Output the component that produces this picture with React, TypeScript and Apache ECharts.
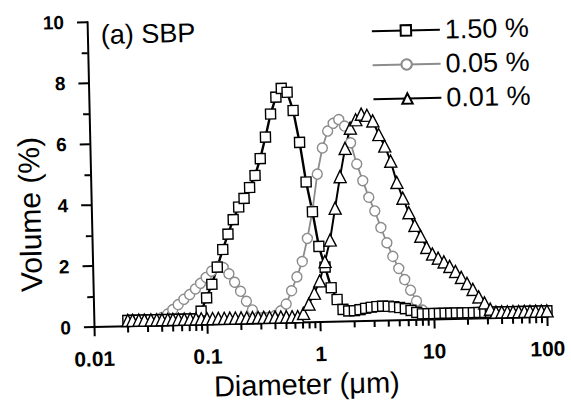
import React, { useEffect, useRef } from "react";
import * as echarts from "echarts";

// Particle size bins (µm), log spaced
const diameters = [
  0.02, 0.022, 0.025, 0.028, 0.032, 0.036, 0.04, 0.045, 0.05, 0.056,
  0.063, 0.071, 0.08, 0.089, 0.1, 0.112, 0.126, 0.142, 0.159, 0.178,
  0.2, 0.224, 0.252, 0.283, 0.317, 0.356, 0.399, 0.448, 0.502, 0.564,
  0.632, 0.71, 0.796, 0.893, 1.002, 1.125, 1.262, 1.416, 1.589, 1.783,
  2.0, 2.244, 2.518, 2.825, 3.17, 3.557, 3.991, 4.477, 5.024, 5.637,
  6.325, 7.096, 7.962, 8.934, 10.024, 11.247, 12.619, 14.159, 15.887, 17.825,
  20.0, 22.44, 25.179, 28.251, 31.698, 35.566, 39.905, 44.774, 50.238, 56.368,
  63.246, 70.963, 79.621, 89.337, 100.0,
];

// Volume (%) – 1.50 % (squares)
const vol150 = [
  0.2, 0.2, 0.2, 0.2, 0.2, 0.2, 0.2, 0.2, 0.2, 0.2,
  0.2, 0.2, 0.2, 0.45, 0.88, 1.32, 1.88, 2.45, 2.95, 3.42,
  3.83, 4.11, 4.46, 4.85, 5.4, 6.1, 6.85, 7.4, 7.68, 7.55,
  6.95, 5.9, 4.6, 3.62, 2.48, 1.8, 1.12, 0.73, 0.4, 0.35,
  0.35, 0.38, 0.42, 0.45, 0.47, 0.48, 0.47, 0.45, 0.42, 0.38,
  0.32, 0.25, 0.2, 0.2, 0.2, 0.2, 0.2, 0.2, 0.2, 0.2,
  0.2, 0.2, 0.2, 0.2, 0.2, 0.2, 0.2, 0.2, 0.2, 0.2,
  0.2, 0.2, 0.2, 0.2, 0.2,
];

// Volume (%) – 0.05 % (circles)
const vol005 = [
  0.2, 0.2, 0.2, 0.2, 0.2, 0.22, 0.27, 0.38, 0.52, 0.68,
  0.85, 1.0, 1.18, 1.36, 1.55, 1.75, 1.9, 1.86, 1.65, 1.37,
  1.07, 0.74, 0.45, 0.2, 0.2, 0.2, 0.25, 0.4, 0.62, 1.05,
  1.5, 2.0, 2.75, 3.65, 4.85, 5.7, 6.25, 6.5, 6.62, 6.4,
  5.85, 5.15, 4.6, 4.05, 3.6, 3.05, 2.55, 2.1, 1.7, 1.33,
  0.98, 0.62, 0.32, 0.2, 0.2, 0.2, 0.2, 0.2, 0.2, 0.2,
  0.2, 0.2, 0.2, 0.2, 0.2, 0.2, 0.2, 0.2, 0.2, 0.2,
  0.2, 0.2, 0.2, 0.2, 0.2,
];

// Volume (%) – 0.01 % (triangles)
const vol001 = [
  0.2, 0.2, 0.2, 0.2, 0.2, 0.2, 0.2, 0.2, 0.2, 0.2,
  0.2, 0.2, 0.2, 0.2, 0.2, 0.2, 0.2, 0.2, 0.2, 0.2,
  0.2, 0.2, 0.2, 0.2, 0.2, 0.2, 0.2, 0.2, 0.2, 0.2,
  0.2, 0.3, 0.6, 0.95, 1.35, 1.98, 2.68, 3.72, 4.75, 5.67,
  6.33, 6.6, 6.78, 6.74, 6.55, 6.1, 5.72, 5.22, 4.52, 4.0,
  3.52, 3.1, 2.74, 2.37, 2.15, 2.01, 1.88, 1.73, 1.56, 1.36,
  1.16, 0.96, 0.71, 0.51, 0.3, 0.2, 0.2, 0.2, 0.2, 0.2,
  0.2, 0.2, 0.2, 0.2, 0.2,
];

const seriesNames = ["1.50 %", "0.05 %", "0.01 %"];
const xTickLabels = [0.01, 0.1, 1, 10, 100];
const xMinorTicks = [
  0.02, 0.03, 0.04, 0.05, 0.06, 0.07, 0.08, 0.09,
  0.2, 0.3, 0.4, 0.5, 0.6, 0.7, 0.8, 0.9,
  2, 3, 4, 5, 6, 7, 8, 9,
  20, 30, 40, 50, 60, 70, 80, 90,
];
const panelLabel = "(a) SBP";
const xTitle = "Diameter (\u03bcm)";
const yTitle = "Volume (%)";

const FONT = "'Liberation Sans', Arial, Helvetica, sans-serif";

export default function App() {
  const ref = useRef<HTMLDivElement>(null);

  useEffect(() => {
    if (!ref.current) return;
    const chart = echarts.init(ref.current, null, { renderer: "svg" });
    const pairs = (ys: number[]) => diameters.map((d, i) => [d, ys[i]]);
    const black = "#000";
    const gray = "#8c8c8c";

    const option: any = {
      animation: false,
      backgroundColor: "#fff",
      grid: {
        left: 90.4,
        top: 16.8,
        width: 453.3,
        height: 305.4,
        containLabel: false,
        outerBoundsMode: "none",
      },
      xAxis: {
        type: "log",
        logBase: 10,
        min: 0.01,
        max: 100,
        splitLine: { show: false },
        axisLine: { show: true, onZero: false, lineStyle: { color: black, width: 2 } },
        axisTick: { show: true, inside: false, length: 9, lineStyle: { color: black, width: 2 } },
        axisLabel: {
          fontFamily: FONT,
          fontSize: 21,
          fontWeight: "bold",
          color: black,
          margin: 21,
          formatter: (v: number) => {
            let best = xTickLabels[0];
            for (const t of xTickLabels) {
              if (Math.abs(Math.log10(t) - Math.log10(v)) < Math.abs(Math.log10(best) - Math.log10(v))) best = t;
            }
            return String(best);
          },
        },
      },
      yAxis: {
        type: "value",
        min: 0,
        max: 10,
        interval: 2,
        splitLine: { show: false },
        axisLine: { show: true, lineStyle: { color: black, width: 2 } },
        axisTick: { show: true, inside: false, length: 10, lineStyle: { color: black, width: 2 } },
        minorTick: { show: true, splitNumber: 2, length: 6, lineStyle: { color: black, width: 2 } },
        minorSplitLine: { show: false },
        axisLabel: {
          fontFamily: FONT,
          fontSize: 19,
          fontWeight: "bold",
          color: black,
          margin: 23,
        },
      },
      legend: {
        data: seriesNames,
        orient: "vertical",
        left: 374,
        top: 19,
        padding: 0,
        itemWidth: 68,
        itemHeight: 13,
        itemGap: 7,
        textStyle: { fontFamily: FONT, fontSize: 27, color: black, lineHeight: 27 },
      },
      graphic: [
        {
          type: "text",
          x: 104,
          y: 30,
          style: { text: panelLabel, fontFamily: FONT, fontSize: 27, fill: black, align: "left", verticalAlign: "middle" },
        },
        {
          type: "text",
          x: 29,
          y: 208,
          rotation: Math.PI / 2,
          style: { text: yTitle, fontFamily: FONT, fontSize: 30, fill: black, align: "center", verticalAlign: "middle" },
        },
        {
          type: "text",
          x: 302,
          y: 384,
          style: { text: xTitle, fontFamily: FONT, fontSize: 29, fill: black, align: "center", verticalAlign: "middle" },
        },
      ],
      series: [
        {
          name: seriesNames[1],
          type: "line",
          data: pairs(vol005),
          symbol: "circle",
          symbolSize: 10,
          showAllSymbol: true,
          clip: false,
          lineStyle: { color: gray, width: 1.8 },
          itemStyle: { color: "#fff", borderColor: gray, borderWidth: 1.4 },
          emphasis: { disabled: true },
        },
        {
          name: seriesNames[0],
          type: "line",
          data: pairs(vol150),
          symbol: "rect",
          symbolSize: 10,
          showAllSymbol: true,
          clip: false,
          lineStyle: { color: black, width: 2.4 },
          itemStyle: { color: "#fff", borderColor: black, borderWidth: 1.4 },
          emphasis: { disabled: true },
        },
        {
          name: seriesNames[2],
          type: "line",
          data: pairs(vol001),
          symbol: "triangle",
          symbolSize: 12,
          showAllSymbol: true,
          clip: false,
          lineStyle: { color: black, width: 2 },
          itemStyle: { color: "#fff", borderColor: black, borderWidth: 1.4 },
          emphasis: { disabled: true },
        },
        {
          type: "custom",
          silent: true,
          clip: false,
          data: xMinorTicks.map((v) => [v, 0]),
          encode: { x: 0, y: 1 },
          renderItem: (params: any, api: any) => {
            const p = api.coord([api.value(0), 0]);
            return {
              type: "line",
              shape: { x1: p[0], y1: p[1], x2: p[0], y2: p[1] + 6 },
              style: { stroke: black, lineWidth: 2 },
            };
          },
        },
      ],
    };

    chart.setOption(option);
    return () => chart.dispose();
  }, []);

  return (
    <div
      ref={ref}
      style={{
        position: "absolute",
        left: 0,
        top: 0,
        width: 571,
        height: 405,
        background: "#fff",
        transform: "rotate(-1.3deg)",
        transformOrigin: "317px 169.5px",
      }}
    />
  );
}
